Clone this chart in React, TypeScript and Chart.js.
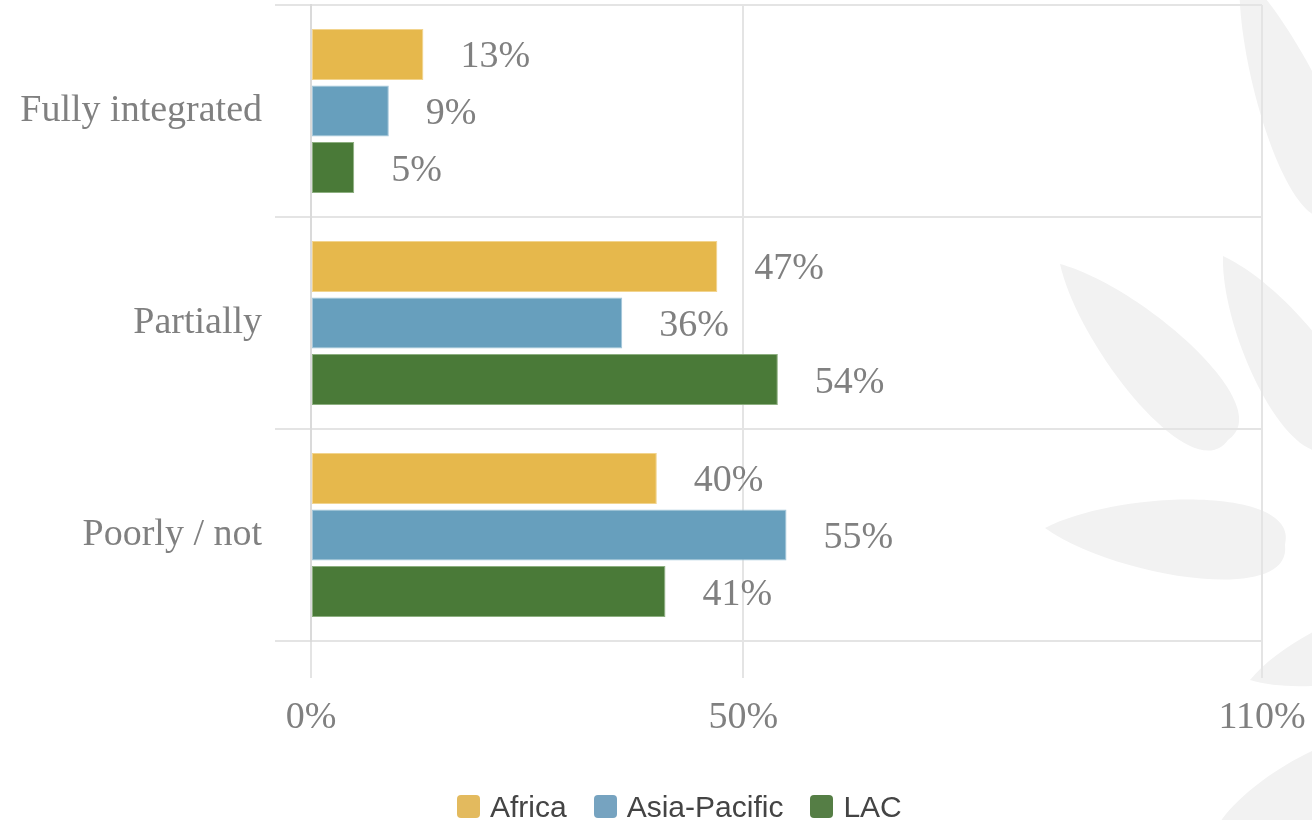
import React, { useEffect, useRef } from "react";
import { Chart, registerables } from "chart.js";

Chart.register(...registerables);

const categories = ["Fully integrated", "Partially", "Poorly / not"];
const seriesNames = ["Africa", "Asia-Pacific", "LAC"];
const africa = [13, 47, 40];
const asiaPacific = [9, 36, 55];
const lac = [5, 54, 41];
const xTickValues = [0, 50, 110];

const fillColors = ["#E6B84C", "#679FBD", "#4A7A38"];
const edgeColors = ["#F2D48E", "#A4C7DA", "#8DAF80"];
const legendColors = ["#E3BA5E", "#76A3C0", "#557E45"];

// decorative background leaves: [tipX, tipY, endX, endY, halfWidth]
const leaves: number[][] = [
  [1240, -30, 1335, 215, 48],
  [1060, 264, 1228, 440, 55],
  [1223, 256, 1340, 445, 55],
  [1045, 528, 1285, 545, 55],
  [1250, 680, 1420, 628, 45],
  [1220, 822, 1420, 760, 60],
];

const SERIF = '"Liberation Serif", "DejaVu Serif", serif';
const SANS = '"Liberation Sans", Arial, sans-serif';

export default function App() {
  const ref = useRef<HTMLCanvasElement>(null);

  useEffect(() => {
    document.body.style.margin = "0";
    const canvas = ref.current;
    if (!canvas) return;

    const leafPlugin = {
      id: "leaves",
      beforeDraw(chart: any) {
        const ctx = chart.ctx;
        ctx.save();
        ctx.fillStyle = "#f2f2f2";
        leaves.forEach(([tx, ty, bx, by, w]) => {
          const dx = bx - tx;
          const dy = by - ty;
          const L = Math.sqrt(dx * dx + dy * dy);
          ctx.save();
          ctx.translate(tx, ty);
          ctx.rotate(Math.atan2(dy, dx));
          ctx.beginPath();
          ctx.moveTo(0, 0);
          ctx.bezierCurveTo(L * 0.3, -w * 0.8, L * 1.05, -w * 1.1, L, 0);
          ctx.bezierCurveTo(L * 1.05, w * 1.1, L * 0.3, w * 0.8, 0, 0);
          ctx.closePath();
          ctx.fill();
          ctx.restore();
        });
        ctx.restore();
      },
    };

    const valuePlugin = {
      id: "values",
      afterDatasetsDraw(chart: any) {
        const ctx = chart.ctx;
        ctx.save();
        ctx.font = `38px ${SERIF}`;
        ctx.fillStyle = "#808080";
        ctx.textAlign = "left";
        ctx.textBaseline = "middle";
        chart.data.datasets.forEach((ds: any, i: number) => {
          const meta = chart.getDatasetMeta(i);
          meta.data.forEach((el: any, j: number) => {
            ctx.fillText(ds.data[j] + "%", el.x + 37, el.y + 3);
          });
        });
        ctx.restore();
      },
    };

    const seriesData = [africa, asiaPacific, lac];

    const chart = new Chart(canvas, {
      type: "bar",
      data: {
        labels: categories,
        datasets: seriesNames.map((name, i) => ({
          label: name,
          data: seriesData[i],
          backgroundColor: fillColors[i],
          borderColor: edgeColors[i],
          borderWidth: 1,
          borderSkipped: false,
        })),
      },
      options: {
        indexAxis: "y",
        responsive: true,
        maintainAspectRatio: false,
        animation: false,
        layout: { padding: { top: 5, right: 50, left: 0, bottom: 0 } },
        scales: {
          x: {
            min: 0,
            max: 110,
            afterBuildTicks: (scale: any) => {
              scale.ticks = xTickValues.map((v) => ({ value: v }));
            },
            afterFit: (scale: any) => {
              scale.height = 179;
              scale.paddingLeft = 0;
              scale.paddingRight = 0;
            },
            grid: {
              color: "#e4e4e4",
              lineWidth: 2,
              tickLength: 37,
            },
            border: { display: false },
            ticks: {
              callback: (v: any) => v + "%",
              font: { family: SERIF, size: 38 },
              color: "#808080",
              padding: 17,
              maxRotation: 0,
            },
          },
          y: {
            grid: {
              offset: true,
              color: "#e4e4e4",
              lineWidth: 2,
              tickLength: 36,
            },
            border: { display: true, color: "#dadada", width: 2 },
            afterFit: (scale: any) => {
              scale.width = 311;
              scale.paddingTop = 0;
              scale.paddingBottom = 0;
            },
            ticks: {
              font: { family: SERIF, size: 38 },
              color: "#808080",
              padding: 13,
            },
          },
        },
        plugins: {
          legend: { display: false },
          tooltip: { enabled: false },
        },
      },
      plugins: [leafPlugin, valuePlugin],
    } as any);

    return () => chart.destroy();
  }, []);

  return (
    <div style={{ width: 1312, height: 820, position: "relative" }}>
      <canvas ref={ref} />
      <div
        style={{
          position: "absolute",
          left: 457,
          top: 790,
          height: 33,
          display: "flex",
          alignItems: "center",
          fontFamily: SANS,
          fontSize: 30,
          color: "#444444",
          whiteSpace: "nowrap",
        }}
      >
        {seriesNames.map((name, i) => (
          <div
            key={name}
            style={{ display: "flex", alignItems: "center", marginRight: 27 }}
          >
            <span
              style={{
                display: "inline-block",
                width: 23,
                height: 23,
                borderRadius: 4,
                background: legendColors[i],
                marginRight: 10,
              }}
            />
            <span>{name}</span>
          </div>
        ))}
      </div>
    </div>
  );
}
